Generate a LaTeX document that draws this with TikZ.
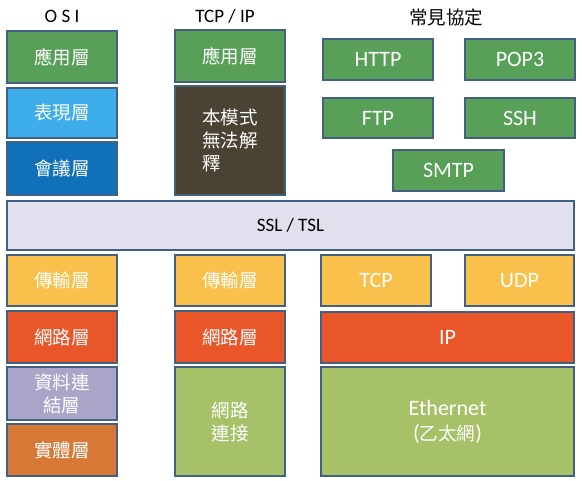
\documentclass[tikz,border=0pt]{standalone}
\usepackage{fontspec}
\setmainfont{Carlito}
\newfontfamily\cjk{Noto Sans CJK TC}
\definecolor{bord}{RGB}{66,96,130}
\definecolor{cgreen}{RGB}{88,160,88}
\definecolor{cltblue}{RGB}{61,174,233}
\definecolor{cdkblue}{RGB}{16,113,185}
\definecolor{cbrown}{RGB}{74,66,50}
\definecolor{cssl}{RGB}{225,224,236}
\definecolor{cyellow}{RGB}{249,192,76}
\definecolor{cred}{RGB}{232,86,42}
\definecolor{clav}{RGB}{170,164,200}
\definecolor{corange}{RGB}{215,120,55}
\definecolor{clgreen}{RGB}{166,193,104}
\tikzset{
  lay/.style={draw=bord, line width=1.5pt, text=white, inner sep=0pt, font=\fontsize{18.5}{23}\selectfont},
  lat/.style={font=\fontsize{22}{26}\selectfont},
  ttl/.style={text=black, inner sep=0pt, font=\fontsize{19}{22}\selectfont}
}
\begin{document}
\begin{tikzpicture}[x=1pt,y=-1pt]
\useasboundingbox (0,0) rectangle (582,481);
% titles
\node[ttl] (tosi) at (62,16) {O S I};
\node[ttl] (ttcp) at (225,16) {TCP / IP};
\node[ttl, font=\fontsize{18.5}{22}\selectfont] (tproto) at (446,17) {\cjk 常見協定};
% OSI column
\node[lay, fill=cgreen, minimum width=110pt, minimum height=52pt] (osiapp) at (62,57) {\cjk 應用層};
\node[lay, fill=cltblue, minimum width=110pt, minimum height=50pt] (osipres) at (62,113) {\cjk 表現層};
\node[lay, fill=cdkblue, minimum width=110pt, minimum height=53pt] (osisess) at (62,168.5) {\cjk 會議層};
\node[lay, fill=cyellow, minimum width=110pt, minimum height=51pt] (ositrans) at (62,280.5) {\cjk 傳輸層};
\node[lay, fill=cred, minimum width=110pt, minimum height=52pt] (osinet) at (62,337) {\cjk 網路層};
\node[lay, fill=clav, minimum width=110pt, minimum height=53pt, align=center] (osilink) at (62,393.5) {\cjk 資料連\\\cjk 結層};
\node[lay, fill=corange, minimum width=110pt, minimum height=52pt] (osiphy) at (62,450) {\cjk 實體層};
% TCP/IP column
\node[lay, fill=cgreen, minimum width=110pt, minimum height=52pt] (tcpapp) at (230,56) {\cjk 應用層};
\node[lay, fill=cbrown, minimum width=110pt, minimum height=109pt, align=left] (tcpna) at (230,140.5) {\cjk 本模式\\\cjk 無法解\\\cjk 釋};
\node[lay, fill=cyellow, minimum width=110pt, minimum height=51pt] (tcptrans) at (230,280.5) {\cjk 傳輸層};
\node[lay, fill=cred, minimum width=110pt, minimum height=52pt] (tcpnet) at (230,337) {\cjk 網路層};
\node[lay, fill=clgreen, minimum width=110pt, minimum height=109pt, align=center] (tcplink) at (230,421.5) {\cjk 網路\\\cjk 連接};
% SSL
\node[lay, fill=cssl, text=black, minimum width=567pt, minimum height=49pt, font=\fontsize{19}{22}\selectfont] (ssl) at (290.5,225.5) {SSL / TSL};
% protocols
\node[lay, lat, fill=cgreen, minimum width=110pt, minimum height=41pt] (http) at (378,59.5) {HTTP};
\node[lay, lat, fill=cgreen, minimum width=110pt, minimum height=41pt] (pop) at (520,59.5) {POP3};
\node[lay, lat, fill=cgreen, minimum width=110pt, minimum height=40pt] (ftp) at (378,118) {FTP};
\node[lay, lat, fill=cgreen, minimum width=110pt, minimum height=40pt] (ssh) at (520,118) {SSH};
\node[lay, lat, fill=cgreen, minimum width=111pt, minimum height=41pt] (smtp) at (448.5,170.5) {SMTP};
\node[lay, lat, fill=cyellow, minimum width=110pt, minimum height=51pt] (tcp) at (376,280.5) {TCP};
\node[lay, lat, fill=cyellow, minimum width=109pt, minimum height=51pt] (udp) at (519.5,280.5) {UDP};
\node[lay, lat, fill=cred, minimum width=253pt, minimum height=51pt] (ip) at (447.5,337.5) {IP};
\node[lay, fill=clgreen, minimum width=253pt, minimum height=109pt, align=center, font=\fontsize{22}{25}\selectfont] (eth) at (447.5,421.5) {Ethernet\\({\cjk\fontsize{18.5}{25}\selectfont 乙太網})};
\end{tikzpicture}
\end{document}
